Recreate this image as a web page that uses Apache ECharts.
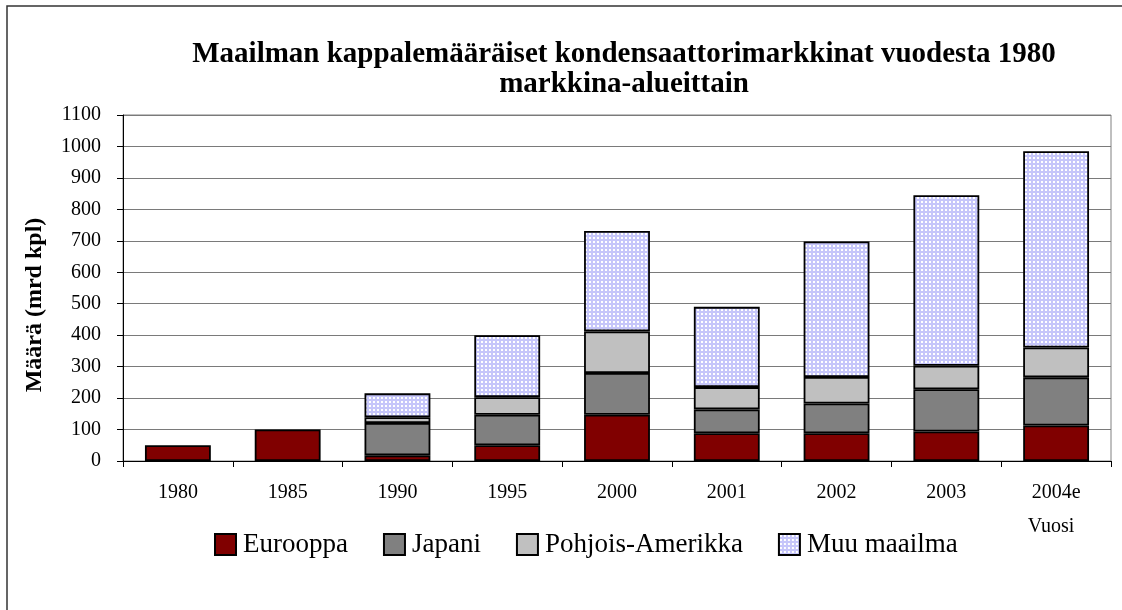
<!DOCTYPE html>
<html>
<head>
<meta charset="utf-8">
<script src="https://cdn.jsdelivr.net/npm/echarts@6/dist/echarts.min.js"></script>
<style>html,body{margin:0;padding:0;background:#fff;}#c{width:1122px;height:610px;}</style>
</head>
<body>
<div id="c"></div>
<script>
const categories = ['1980', '1985', '1990', '1995', '2000', '2001', '2002', '2003', '2004e'];
const seriesNames = ['Eurooppa', 'Japani', 'Pohjois-Amerikka', 'Muu maailma'];
const eurooppa = [50, 100, 18, 50, 147, 88, 88, 94, 113];
const japani = ['-', '-', 103, 97, 133, 76, 95, 134, 153];
const pohjoisAmerikka = ['-', '-', 18, 56, 132, 71, 84, 75, 95];
const muuMaailma = ['-', '-', 76, 197, 319, 255, 431, 542, 624];
const titleLines = ['Maailman kappalemääräiset kondensaattorimarkkinat vuodesta 1980', 'markkina-alueittain'];
const yName = 'Määrä (mrd kpl)';
const xName = 'Vuosi';

const FONT = '"Liberation Serif", "Times New Roman", serif';

// dotted pattern for "Muu maailma"
const pc = document.createElement('canvas');
pc.width = 4; pc.height = 4;
const pctx = pc.getContext('2d');
pctx.fillStyle = '#c6c6fa';
pctx.fillRect(0, 0, 4, 4);
pctx.fillStyle = '#ffffff';
pctx.fillRect(1, 1, 2, 2);

const colors = ['#800000', '#808080', '#c0c0c0', { image: pc, repeat: 'repeat' }];
const values = [eurooppa, japani, pohjoisAmerikka, muuMaailma];

const chart = echarts.init(document.getElementById('c'), null, { renderer: 'canvas' });
chart.setOption({
  animation: false,
  backgroundColor: '#ffffff',
  textStyle: { fontFamily: FONT },
  grid: {
    left: 123, right: 11, top: 115, bottom: 149,
    show: true, borderColor: '#808080', borderWidth: 1, backgroundColor: 'transparent'
  },
  legend: {
    left: 214, top: 531, padding: 0,
    itemWidth: 21, itemHeight: 21, itemGap: 35,
    icon: 'rect',
    textStyle: { fontFamily: FONT, fontSize: 27, color: '#000', padding: [0, 0, 0, 2] },
    data: seriesNames
  },
  xAxis: {
    type: 'category',
    data: categories,
    boundaryGap: true,
    axisLine: { lineStyle: { color: '#000', width: 1 } },
    axisTick: { show: true, length: 6, lineStyle: { color: '#000' } },
    axisLabel: { color: '#000', fontFamily: FONT, fontSize: 20, margin: 22, interval: 0 },
    splitLine: { show: false }
  },
  yAxis: {
    type: 'value',
    min: 0, max: 1100, interval: 100,
    axisLine: { show: true, lineStyle: { color: '#000', width: 1 } },
    axisTick: { show: true, length: 6, lineStyle: { color: '#000' } },
    axisLabel: { color: '#000', fontFamily: FONT, fontSize: 20, margin: 22, formatter: v => String(v) },
    splitLine: { show: true, lineStyle: { color: '#7a7a7a', width: 1.2 } }
  },
  series: seriesNames.map((n, i) => ({
    name: n,
    type: 'bar',
    stack: 'total',
    data: values[i],
    barCategoryGap: '40%',
    itemStyle: { color: colors[i], borderColor: '#000', borderWidth: 1.8 }
  })),
  graphic: [
    {
      type: 'rect', silent: true, z: 100,
      shape: { x: 7, y: 6, width: 1300, height: 800 },
      style: { fill: 'none', stroke: '#333', lineWidth: 1.5 }
    },
    {
      type: 'text', x: 624, y: 55, z: 100,
      style: { text: titleLines[0], fontFamily: FONT, fontSize: 29, fontWeight: 'bold', fill: '#000', align: 'center', verticalAlign: 'middle' }
    },
    {
      type: 'text', x: 624, y: 85, z: 100,
      style: { text: titleLines[1], fontFamily: FONT, fontSize: 29, fontWeight: 'bold', fill: '#000', align: 'center', verticalAlign: 'middle' }
    },
    {
      type: 'text', x: 35, y: 305, rotation: Math.PI / 2, z: 100,
      style: { text: yName, fontFamily: FONT, fontSize: 24, fontWeight: 'bold', fill: '#000', align: 'center', verticalAlign: 'middle' }
    },
    {
      type: 'text', x: 1051, y: 527, z: 100,
      style: { text: xName, fontFamily: FONT, fontSize: 20, fill: '#000', align: 'center', verticalAlign: 'middle' }
    }
  ]
});
</script>
</body>
</html>
